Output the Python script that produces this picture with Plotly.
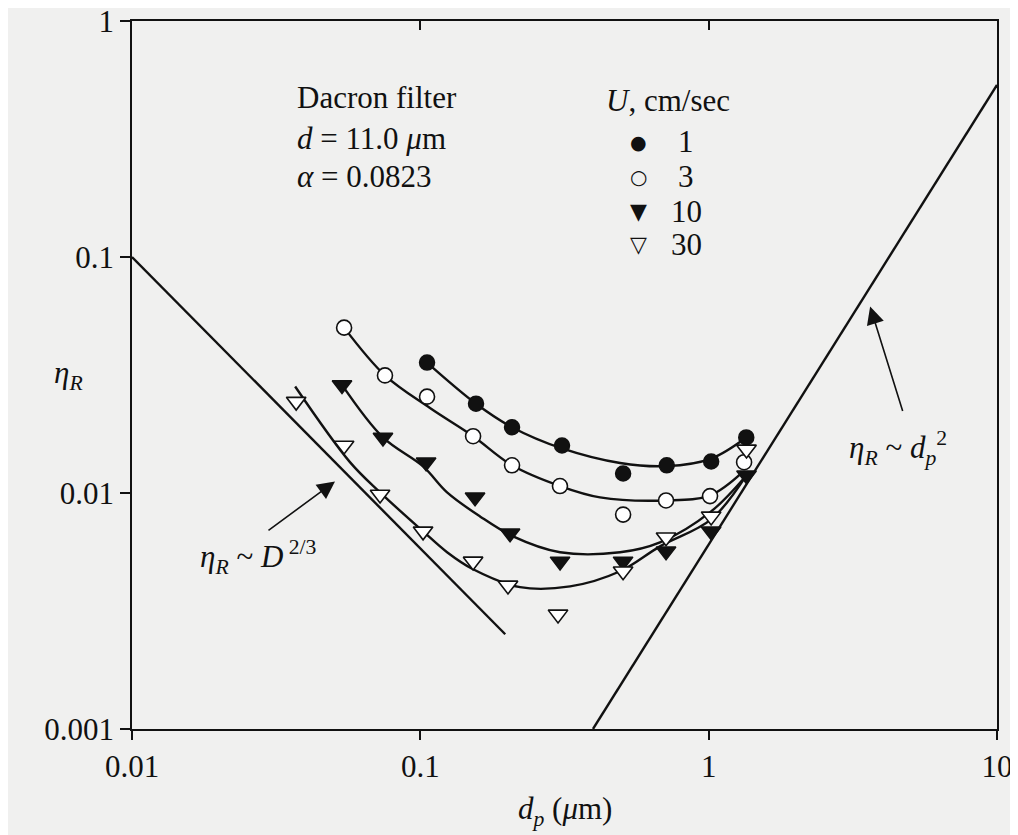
import plotly.graph_objects as go

# ---------------- data ----------------
# U = 1 cm/sec  (filled circles)
u1_dp = [0.1055, 0.156, 0.208, 0.310, 0.505, 0.7155, 1.02, 1.35]
u1_eta = [0.0357, 0.0239, 0.0190, 0.0159, 0.0121, 0.0131, 0.0136, 0.0172]
u1_fit_dp = [0.1055, 0.156, 0.208, 0.310, 0.493, 0.7155, 1.02, 1.35]
u1_fit_eta = [0.0357, 0.0239, 0.0190, 0.01545, 0.0134, 0.0130, 0.0140, 0.0172]

# U = 3 cm/sec  (open circles)
u3_dp = [0.0544, 0.0754, 0.1055, 0.1524, 0.208, 0.305, 0.505, 0.7115, 1.011, 1.327]
u3_eta = [0.0502, 0.0315, 0.0256, 0.0174, 0.0131, 0.0107, 0.0081, 0.0093, 0.0097, 0.0135]
u3_fit_dp = [0.0544, 0.0754, 0.108, 0.1524, 0.208, 0.305, 0.42, 0.7115, 1.011, 1.305]
u3_fit_eta = [0.0502, 0.0315, 0.0229, 0.0174, 0.0131, 0.0107, 0.00958, 0.0093, 0.00977, 0.0122]

# U = 10 cm/sec (filled down-triangles)
u10_dp = [0.0535, 0.0742, 0.1047, 0.1548, 0.2047, 0.3052, 0.5048, 0.7115, 1.02, 1.353]
u10_eta = [0.0287, 0.0172, 0.0135, 0.0096, 0.00675, 0.00513, 0.00513, 0.00566, 0.00688, 0.0119]
u10_fit_dp = [0.0535, 0.0742, 0.1022, 0.1238, 0.161, 0.2097, 0.3052, 0.493, 0.678, 1.02, 1.353]
u10_fit_eta = [0.0287, 0.0172, 0.01296, 0.01006, 0.00796, 0.00655, 0.00561, 0.00561, 0.00618, 0.00836, 0.0119]

# U = 30 cm/sec (open down-triangles)
u30_dp = [0.0371, 0.0544, 0.0725, 0.1022, 0.1524, 0.2014, 0.3003, 0.5048, 0.7115, 1.02, 1.353]
u30_eta = [0.0244, 0.0159, 0.00986, 0.00688, 0.00513, 0.00406, 0.00306, 0.00466, 0.00649, 0.00796, 0.0153]
u30_fit_dp = [0.0368, 0.0571, 0.0725, 0.1022, 0.1238, 0.1524, 0.2217, 0.3308, 0.493, 0.678, 1.02, 1.353]
u30_fit_eta = [0.02826, 0.01348, 0.01006, 0.00688, 0.00561, 0.00475, 0.00399, 0.00402, 0.00466, 0.00594, 0.00773, 0.0119]

# asymptotes
diff_dp = [0.01, 0.197]          # eta_R ~ D^(2/3) line
diff_eta = [0.1, 0.00252]
int_dp = [0.397, 10.0]           # eta_R ~ dp^2 line
int_eta = [0.001, 0.536]

x_ticks = [0.01, 0.1, 1, 10]
x_ticktext = ["0.01", "0.1", "1", "10"]
y_ticks = [0.001, 0.01, 0.1, 1]
y_ticktext = ["0.001", "0.01", "0.1", "1"]

legend_labels = ["1", "3", "10", "30"]
legend_glyphs = ["●", "○", "▼", "▽"]

FONT = "Liberation Serif, Times New Roman, serif"
SYMFONT = "DejaVu Sans"
BG = "#f0f0ef"
INK = "#111111"

fig = go.Figure()

line_style = dict(color=INK, width=2.4)

fig.add_trace(go.Scatter(x=diff_dp, y=diff_eta, mode="lines", line=line_style,
                         showlegend=False, hoverinfo="skip"))
fig.add_trace(go.Scatter(x=int_dp, y=int_eta, mode="lines", line=line_style,
                         showlegend=False, hoverinfo="skip"))

for fx, fy in [(u1_fit_dp, u1_fit_eta), (u3_fit_dp, u3_fit_eta),
               (u10_fit_dp, u10_fit_eta), (u30_fit_dp, u30_fit_eta)]:
    fig.add_trace(go.Scatter(x=fx, y=fy, mode="lines",
                             line=dict(color=INK, width=2.4, shape="spline", smoothing=1.0),
                             showlegend=False, hoverinfo="skip"))

fig.add_trace(go.Scatter(x=u1_dp, y=u1_eta, mode="markers", name="1", showlegend=False,
                         marker=dict(symbol="circle", size=15, color=INK,
                                     line=dict(color=INK, width=1.5))))
fig.add_trace(go.Scatter(x=u3_dp, y=u3_eta, mode="markers", name="3", showlegend=False,
                         marker=dict(symbol="circle", size=15, color="white",
                                     line=dict(color=INK, width=1.6))))
fig.add_trace(go.Scatter(x=u10_dp, y=u10_eta, mode="markers", name="10", showlegend=False,
                         marker=dict(symbol="triangle-down", size=17, color=INK,
                                     line=dict(color=INK, width=1.5))))
fig.add_trace(go.Scatter(x=u30_dp, y=u30_eta, mode="markers", name="30", showlegend=False,
                         marker=dict(symbol="triangle-down", size=17, color="white",
                                     line=dict(color=INK, width=1.6))))

# invisible trace so that the top (inside-tick) axis is drawn
fig.add_trace(go.Scatter(x=[0.01], y=[0.001], xaxis="x2", mode="markers",
                         marker=dict(opacity=0), showlegend=False, hoverinfo="skip"))

# the page body has an 8px margin: compensate so the plot area sits at
# x 132..997, y 21..729 in the 1018x835 window
fig.update_layout(
    width=1010, height=827,
    margin=dict(l=124, r=21, t=13, b=106, autoexpand=False),
    paper_bgcolor=BG, plot_bgcolor=BG,
    font=dict(family=FONT, size=31, color=INK),
    showlegend=False,
    xaxis=dict(
        type="log", range=[-2, 1], automargin=False, ticklabeloverflow="allow",
        tickvals=x_ticks, ticktext=x_ticktext,
        ticks="outside", ticklen=9, tickwidth=1.5, tickcolor=INK,
        showline=True, linecolor=INK, linewidth=1.8, mirror=True,
        showgrid=False, zeroline=False,
        tickfont=dict(family=FONT, size=31),
    ),
    xaxis2=dict(
        type="log", range=[-2, 1], overlaying="x", side="top", anchor="y",
        automargin=False,
        tickvals=[0.1, 1], ticks="inside", ticklen=9, tickwidth=1.5, tickcolor=INK,
        showticklabels=False, showline=False, showgrid=False, zeroline=False,
    ),
    yaxis=dict(
        type="log", range=[-3, 0], automargin=False, ticklabeloverflow="allow",
        tickvals=y_ticks, ticktext=y_ticktext,
        ticks="outside", ticklen=10, tickwidth=1.5, tickcolor=INK,
        showline=True, linecolor=INK, linewidth=1.8, mirror=True,
        showgrid=False, zeroline=False,
        tickfont=dict(family=FONT, size=31),
    ),
)

# plot-area geometry (screen px) used only to place the text annotations
PX0, PX1, PY0, PY1 = 132, 997, 21, 729


def px(xs):
    return (xs - PX0) / (PX1 - PX0)


def py(ys):
    return (PY1 - ys) / (PY1 - PY0)


ann_font = dict(family=FONT, size=31, color=INK)


def text(x, y, s, anchor="left", font=ann_font):
    fig.add_annotation(xref="paper", yref="paper", x=px(x), y=py(y), xanchor=anchor,
                       yanchor="middle", text=s, showarrow=False, font=font)


# axis titles
text(68, 375, "<i>η<sub>R</sub></i>", anchor="center")
text(565, 811, "<i>d<sub>p</sub></i> (<i>μ</i>m)", anchor="center")

# filter description
text(295, 98, "Dacron filter")
text(295, 138, "<i>d</i> = 11.0 <i>μ</i>m")
text(295, 177, "<i>α</i> = 0.0823")

# legend block
text(604, 100, "<i>U</i>, cm/sec")
row_y = [142, 177, 211, 245]
glyph_sizes = [19, 20, 22, 22]
for lab, gl, ry, gs in zip(legend_labels, legend_glyphs, row_y, glyph_sizes):
    text(638, ry, gl, anchor="center", font=dict(family=SYMFONT, size=gs, color=INK))
    text(686, ry, lab, anchor="center")

# asymptote labels
text(258, 557, "<i>η<sub>R</sub></i>&nbsp;~&nbsp;<i>D</i><sup> 2/3</sup>", anchor="center")
text(898, 448, "<i>η<sub>R</sub></i>&nbsp;~ <i>d<sub>p</sub></i><sup>2</sup>", anchor="center")

# arrows
fig.add_annotation(x=-1.296, y=-1.951, xref="x", yref="y", text="", showarrow=True,
                   ax=-68, ay=50, arrowhead=2, arrowsize=2.2, arrowwidth=1.6,
                   arrowcolor=INK)
fig.add_annotation(x=0.56, y=-1.210, xref="x", yref="y", text="", showarrow=True,
                   ax=33, ay=106, arrowhead=2, arrowsize=2.2, arrowwidth=1.6,
                   arrowcolor=INK)

fig.write_html("out.html")
